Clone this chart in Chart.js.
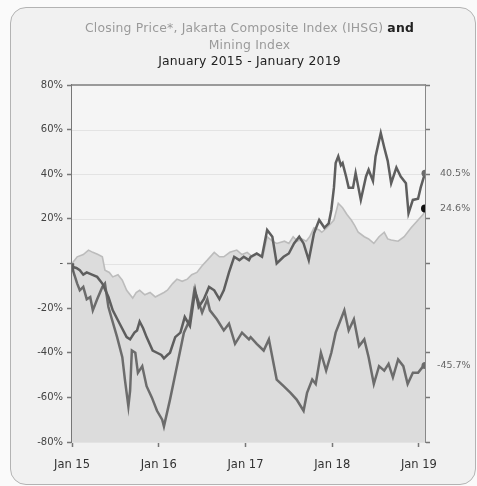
<!DOCTYPE html>
<html>
<head>
<meta charset="utf-8">
<script src="https://cdn.jsdelivr.net/npm/chart.js@4/dist/chart.umd.min.js"></script>
<style>
  body { margin: 0; background: #fafafa; }
  #card {
    position: absolute; left: 10px; top: 7px; width: 464px; height: 476px;
    border: 1.5px solid #b3b3b3; border-radius: 16px; background: #f1f1f1;
  }
  #wrap { position: absolute; left: 0; top: 0; width: 477px; height: 486px; }
  #title {
    position: absolute; left: 22px; top: 20px; width: 455px; text-align: center;
    font-family: "DejaVu Sans", sans-serif; font-size: 12.4px; letter-spacing: 0.2px;
    line-height: 16.5px; color: #9a9a9a;
  }
  #title b { color: #222; font-weight: bold; }
  #title .sub { color: #222; }
</style>
</head>
<body>
<div id="card"></div>
<div id="wrap"><canvas id="chart"></canvas></div>
<div id="title">
  Closing Price*, Jakarta Composite Index (IHSG) <b>and</b><br>
  Mining Index<br>
  <span class="sub">January 2015 - January 2019</span>
</div>
<script>
// x = decimal year, y = % change since Jan 2015
const xTickYears = [2015, 2016, 2017, 2018, 2019];
const yTicks = [-80, -60, -40, -20, 0, 20, 40, 60, 80];

// light filled series (ends 24.6%)
const areaX = [2015.00, 2015.06, 2015.13, 2015.19, 2015.24, 2015.30, 2015.35, 2015.38, 2015.43, 2015.47,
  2015.53, 2015.58, 2015.63, 2015.70, 2015.74, 2015.78, 2015.84, 2015.90, 2015.96, 2016.01,
  2016.06, 2016.10, 2016.16, 2016.21, 2016.27, 2016.33, 2016.38, 2016.44, 2016.50, 2016.56,
  2016.64, 2016.70, 2016.75, 2016.82, 2016.90, 2016.96, 2017.02, 2017.08, 2017.13, 2017.20,
  2017.25, 2017.31, 2017.36, 2017.45, 2017.50, 2017.55, 2017.60, 2017.65, 2017.70, 2017.74,
  2017.79, 2017.85, 2017.88, 2017.94, 2018.02, 2018.07, 2018.12, 2018.17, 2018.22, 2018.26,
  2018.30, 2018.37, 2018.42, 2018.48, 2018.54, 2018.60, 2018.64, 2018.68, 2018.76, 2018.83,
  2018.91, 2018.99, 2019.05, 2019.07];
const areaY = [0, 3, 4, 6, 5, 4, 3, -3, -4, -6,
  -5, -7.5, -12, -15.5, -13, -12, -14, -13, -15, -14,
  -13, -12, -9, -7, -8, -7, -5, -4, -1, 1.5,
  5, 3, 3, 5, 6, 4, 5, 3, 4, 3,
  12, 10, 9, 10, 9, 12, 10, 11, 10, 12,
  16, 15, 14, 16, 19.5, 27, 25, 22, 19.5, 17,
  14, 12, 11, 9, 12, 14, 11, 10.5, 10, 12,
  16, 19.5, 22, 24.6];

// dark series ending 40.5%
const upX = [2015.00, 2015.01, 2015.05, 2015.09, 2015.13, 2015.17, 2015.23, 2015.29, 2015.35, 2015.42,
  2015.47, 2015.55, 2015.63, 2015.67, 2015.72, 2015.75, 2015.78, 2015.82, 2015.86, 2015.93,
  2015.98, 2016.03, 2016.06, 2016.10, 2016.13, 2016.19, 2016.25, 2016.30, 2016.36, 2016.42,
  2016.46, 2016.52, 2016.58, 2016.64, 2016.70, 2016.75, 2016.81, 2016.87, 2016.93, 2016.98,
  2017.04, 2017.06, 2017.13, 2017.19, 2017.25, 2017.31, 2017.36, 2017.44, 2017.50, 2017.56,
  2017.62, 2017.67, 2017.73, 2017.79, 2017.85, 2017.91, 2017.96, 2017.99, 2018.02, 2018.04,
  2018.07, 2018.10, 2018.12, 2018.16, 2018.19, 2018.24, 2018.27, 2018.33, 2018.39, 2018.42,
  2018.47, 2018.50, 2018.56, 2018.60, 2018.64, 2018.68, 2018.74, 2018.79, 2018.85, 2018.88,
  2018.93, 2018.99, 2019.02, 2019.07];
const upY = [0, -1.5, -2, -3, -5, -4, -5, -6, -9, -15,
  -21, -27, -33, -34, -31, -30, -26, -29, -33, -39,
  -40, -41, -42.5, -41, -40, -33, -31, -24, -28, -12,
  -19.5, -16, -10.5, -12, -16, -12, -4, 3, 1.5, 3,
  1.5, 3, 4.5, 3, 15, 12, 0, 3, 4.5, 9,
  12, 9, 1.5, 13.5, 19.5, 16, 18, 24, 34, 45,
  48, 44, 45, 39, 34, 34, 40.5, 28.5, 39, 42,
  37, 48, 58.5, 52, 46, 36, 43, 39, 36, 22.5,
  28.5, 29, 34, 40.5];

// dark series ending -45.7%
const downX = [2015.00, 2015.01, 2015.06, 2015.09, 2015.13, 2015.17, 2015.21, 2015.24, 2015.29, 2015.35,
  2015.38, 2015.42, 2015.46, 2015.52, 2015.58, 2015.61, 2015.65, 2015.67, 2015.69, 2015.73,
  2015.76, 2015.81, 2015.86, 2015.92, 2015.98, 2016.04, 2016.06, 2016.13, 2016.21, 2016.29,
  2016.36, 2016.41, 2016.44, 2016.50, 2016.56, 2016.59, 2016.67, 2016.75, 2016.81, 2016.88,
  2016.96, 2017.04, 2017.06, 2017.13, 2017.21, 2017.27, 2017.33, 2017.36, 2017.44, 2017.52,
  2017.59, 2017.67, 2017.71, 2017.77, 2017.81, 2017.87, 2017.93, 2017.99, 2018.04, 2018.10,
  2018.14, 2018.19, 2018.25, 2018.31, 2018.37, 2018.42, 2018.48, 2018.54, 2018.60, 2018.65,
  2018.70, 2018.76, 2018.82, 2018.87, 2018.93, 2018.99, 2019.05, 2019.07];
const downY = [0, -3, -9, -12, -10.5, -16, -15, -21, -16, -10.5,
  -9, -19.5, -25, -33, -42, -52, -64, -57, -39, -40,
  -49, -46, -55, -60, -66, -70, -73, -61, -46, -31,
  -25, -12, -15, -22, -16, -21, -25, -30, -27, -36,
  -31, -34, -33, -36, -39, -34, -46, -52, -55, -58,
  -61, -66, -58, -52, -54, -40, -48, -40, -31, -25,
  -21, -30, -25, -37, -34, -42, -54, -46, -48, -45,
  -51, -43, -46, -54, -49, -49, -46, -45.7];

const pts = (xs, ys) => xs.map((x, i) => ({ x: x, y: ys[i] }));

// end dot only on the last point
function endRadius(r) {
    return ctx => ctx.dataIndex === ctx.dataset.data.length - 1 ? r : 0;
}

const frame = {
    id: "frame",
    beforeDatasetsDraw(chart) {
        const a = chart.chartArea;
        const c = chart.ctx;
        c.save();
        c.fillStyle = "#f5f5f5";
        c.fillRect(a.left, a.top, a.right - a.left, a.bottom - a.top);
        const y = chart.scales.y;
        c.strokeStyle = "#e3e3e3";
        c.lineWidth = 1;
        yTicks.forEach(v => {
            const py = Math.round(y.getPixelForValue(v)) + 0.5;
            c.beginPath(); c.moveTo(a.left, py); c.lineTo(a.right, py); c.stroke();
        });
        c.restore();
    },
    afterDraw(chart) {
        const a = chart.chartArea;
        const c = chart.ctx;
        c.save();
        c.strokeStyle = "#9a9a9a";
        c.lineWidth = 2;
        c.beginPath(); c.moveTo(a.left, a.top); c.lineTo(a.right, a.top); c.stroke();
        // end value labels
        c.font = "9.5px 'DejaVu Sans', sans-serif";
        c.fillStyle = "#666";
        c.textBaseline = "middle";
        chart.data.datasets.forEach(ds => {
            const last = ds.data[ds.data.length - 1];
            const py = chart.scales.y.getPixelForValue(last.y);
            const txt = last.y.toFixed(1) + "%";
            c.fillText(txt, last.y < 0 ? a.right + 12 : a.right + 15, py);
        });
        c.restore();
    }
};

new Chart(document.getElementById("chart"), {
    type: "line",
    data: {
        datasets: [
            {
                label: "Up",
                data: pts(upX, upY),
                borderColor: "#5e5e5e",
                borderWidth: 2.5,
                pointRadius: endRadius(3.5),
                pointBackgroundColor: "#6a6a6a",
                pointBorderWidth: 0,
                tension: 0
            },
            {
                label: "Down",
                data: pts(downX, downY),
                borderColor: "#6c6c6c",
                borderWidth: 2.5,
                pointRadius: endRadius(3.5),
                pointBackgroundColor: "#6c6c6c",
                pointBorderWidth: 0,
                tension: 0
            },
            {
                label: "Area",
                data: pts(areaX, areaY),
                borderColor: "#bcbcbc",
                backgroundColor: "#dcdcdc",
                borderWidth: 1.6,
                fill: "start",
                pointRadius: endRadius(4),
                pointBackgroundColor: "#111",
                pointBorderWidth: 0,
                tension: 0
            }
        ]
    },
    options: {
        responsive: true,
        maintainAspectRatio: false,
        animation: false,
        layout: { padding: { top: 85 } },
        plugins: {
            legend: { display: false },
            tooltip: { enabled: false }
        },
        scales: {
            x: {
                type: "linear",
                min: 2015,
                max: 2019.07,
                afterBuildTicks: s => { s.ticks = xTickYears.map(v => ({ value: v })); },
                afterFit: s => { s.height = 44; },
                ticks: {
                    padding: 11,
                    color: "#333",
                    font: { family: "DejaVu Sans", size: 11.5 },
                    callback: v => "Jan " + String(v).slice(2)
                },
                grid: { drawOnChartArea: false, tickLength: 5, tickColor: "#777", tickWidth: 1.5 },
                border: { color: "#777", width: 2 }
            },
            y: {
                position: "left",
                min: -80,
                max: 80,
                afterBuildTicks: s => { s.ticks = yTicks.map(v => ({ value: v })); },
                afterFit: s => { s.width = 72; },
                ticks: {
                    padding: 4,
                    color: "#444",
                    font: { family: "DejaVu Sans", size: 10 },
                    callback: v => v === 0 ? "-" : v + "%"
                },
                grid: { drawOnChartArea: false, tickLength: 5, tickColor: "#777", tickWidth: 1.5 },
                border: { color: "#777", width: 2 }
            },
            y2: {
                position: "right",
                min: -80,
                max: 80,
                afterBuildTicks: s => { s.ticks = yTicks.map(v => ({ value: v })); },
                afterFit: s => { s.width = 52; },
                ticks: { display: false },
                grid: { drawOnChartArea: false, tickLength: 5, tickColor: "#777", tickWidth: 1.5 },
                border: { color: "#888", width: 2 }
            }
        }
    },
    plugins: [frame]
});
</script>
</body>
</html>
